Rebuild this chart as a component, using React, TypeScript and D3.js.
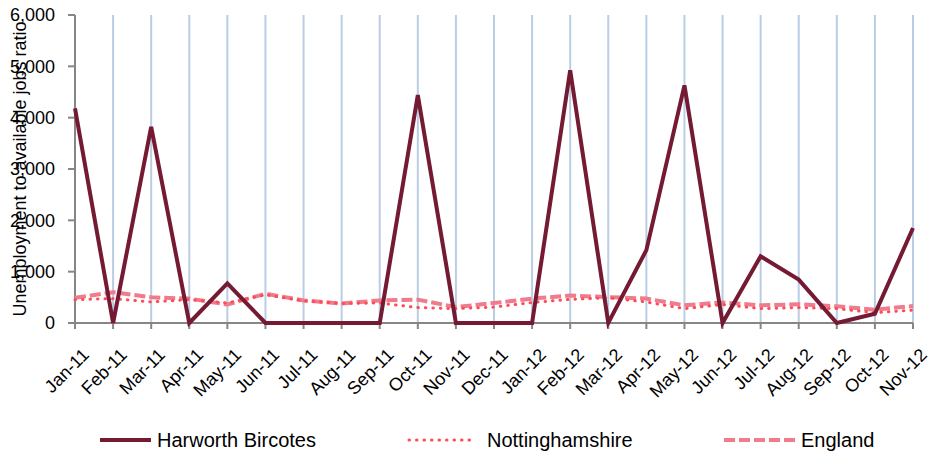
import React from "react";
import * as d3 from "d3";

const months = [
  "Jan-11", "Feb-11", "Mar-11", "Apr-11", "May-11", "Jun-11", "Jul-11", "Aug-11",
  "Sep-11", "Oct-11", "Nov-11", "Dec-11", "Jan-12", "Feb-12", "Mar-12", "Apr-12",
  "May-12", "Jun-12", "Jul-12", "Aug-12", "Sep-12", "Oct-12", "Nov-12",
];

const harworth = [4180, 0, 3820, 0, 770, 0, 0, 0, 0, 4440, 0, 0, 0, 4925, 0, 1420, 4630, 0, 1300, 845, 0, 180, 1850];
const notts = [455, 475, 410, 455, 390, 550, 430, 380, 390, 300, 280, 310, 400, 460, 490, 410, 280, 360, 280, 300, 280, 200, 250];
const england = [490, 600, 500, 475, 360, 570, 440, 380, 440, 455, 310, 390, 475, 535, 505, 475, 345, 400, 345, 365, 325, 260, 330];

const yTicks = [0, 1000, 2000, 3000, 4000, 5000, 6000];

const seriesNames = ["Harworth Bircotes", "Nottinghamshire", "England"];

const W = 930;
const H = 454;
const FONT = "'Liberation Sans', Arial, sans-serif";

const styles = [
  { color: "#741A32", width: 4, dash: "none", cap: "butt" },
  { color: "#FF4B55", width: 3, dash: "0.5,7", cap: "round" },
  { color: "#F07B8C", width: 4, dash: "11,4", cap: "butt" },
];

export default function App() {
  const x = d3.scalePoint<string>().domain(months).range([75, 913]);
  const y = d3.scaleLinear().domain([0, 6000]).range([323, 15]);
  const line = d3
    .line<number>()
    .x((_, i) => x(months[i]) as number)
    .y((d) => y(d));
  const data = [harworth, notts, england];
  const fmt = d3.format(",");

  const legendX = [100, 409, 724];
  const legendLen = [51, 63, 72];
  const legendGap = [6, 15, 5];

  return (
    <svg
      width={W}
      height={H}
      style={{ position: "absolute", left: 0, top: 0, background: "#fff" }}
      fontFamily={FONT}
    >
      <rect width={W} height={H} fill="#fff" />
      {months.slice(1).map((m) => (
        <line key={m} x1={x(m)} x2={x(m)} y1={y(6000)} y2={y(0)} stroke="#B9CDE5" strokeWidth={2} />
      ))}
      <line x1={75} x2={75} y1={y(6000)} y2={y(0)} stroke="#868686" strokeWidth={2} />
      {yTicks.map((t) => (
        <g key={t}>
          <line x1={68} x2={75} y1={y(t)} y2={y(t)} stroke="#868686" strokeWidth={2} />
          <text x={55} y={y(t)} dy="0.35em" textAnchor="end" fontSize={18} fill="#000">
            {fmt(t)}
          </text>
        </g>
      ))}
      <line x1={75} x2={913} y1={y(0)} y2={y(0)} stroke="#868686" strokeWidth={2} />
      {months.map((m) => (
        <g key={m}>
          <line x1={x(m)} x2={x(m)} y1={y(0)} y2={y(0) + 6} stroke="#868686" strokeWidth={2} />
          <text
            transform={`translate(${(x(m) as number) + 15},${356}) rotate(-45)`}
            textAnchor="end"
            fontSize={18}
            fill="#000"
          >
            {m}
          </text>
        </g>
      ))}
      <text
        transform={`translate(26,169) rotate(-90)`}
        textAnchor="middle"
        fontSize={18}
        fill="#000"
      >
        Unemployment to available jobs ratio
      </text>
      {[2, 1, 0].map((i) => (
        <path
          key={i}
          d={line(data[i]) || ""}
          fill="none"
          stroke={styles[i].color}
          strokeWidth={styles[i].width}
          strokeDasharray={styles[i].dash}
          strokeLinecap={styles[i].cap as any}
          strokeLinejoin="miter"
        />
      ))}
      {seriesNames.map((n, i) => (
        <g key={n}>
          <line
            x1={legendX[i]}
            x2={legendX[i] + legendLen[i]}
            y1={440}
            y2={440}
            stroke={styles[i].color}
            strokeWidth={styles[i].width}
            strokeDasharray={styles[i].dash}
            strokeLinecap={styles[i].cap as any}
          />
          <text x={legendX[i] + legendLen[i] + legendGap[i]} y={447} fontSize={20} fill="#000">
            {n}
          </text>
        </g>
      ))}
    </svg>
  );
}
